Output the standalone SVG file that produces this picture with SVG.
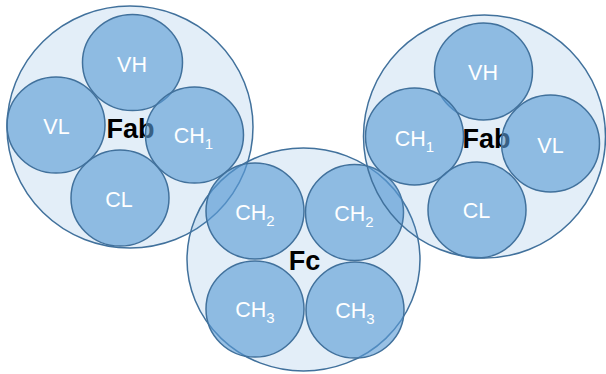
<svg xmlns="http://www.w3.org/2000/svg" width="606" height="374" viewBox="0 0 606 374">
  <style>
    .domain { fill: #5b9bd5; fill-opacity: 0.17; stroke: #41719c; stroke-width: 1.5; }
    .chain { fill: #5b9bd5; fill-opacity: 0.62; stroke: #41719c; stroke-width: 1.5; }
    .lbl { font-family: "Liberation Sans", Arial, sans-serif; font-size: 21.5px; fill: #ffffff; text-anchor: middle; }
    .sub { font-size: 15px; }
    .title { font-family: "Liberation Sans", Arial, sans-serif; font-weight: bold; font-size: 27px; fill: #000000; text-anchor: middle; }
  </style>
  <rect width="606" height="374" fill="#ffffff"/>

  <!-- Left Fab fragment -->
  <g id="fab-left">
    <ellipse class="domain" cx="130" cy="127" rx="123" ry="121"/>
    <text class="title" x="130.5" y="138">Fab</text>
    <ellipse class="chain" cx="132.5" cy="62.5" rx="50" ry="48"/>
    <ellipse class="chain" cx="56" cy="125" rx="49" ry="48"/>
    <ellipse class="chain" cx="194.5" cy="135" rx="49" ry="48"/>
    <ellipse class="chain" cx="120" cy="198" rx="49" ry="48"/>
    <text class="lbl" x="132" y="72">VH</text>
    <text class="lbl" x="56.5" y="134">VL</text>
    <text class="lbl" x="193.5" y="143">CH<tspan class="sub" dy="6">1</tspan></text>
    <text class="lbl" x="119" y="206.5">CL</text>
  </g>

  <!-- Fc fragment -->
  <g id="fc">
    <ellipse class="domain" cx="303.5" cy="259.5" rx="116.5" ry="111.5"/>
    <text class="title" x="304.5" y="270">Fc</text>
    <ellipse class="chain" cx="255" cy="211" rx="49" ry="48"/>
    <ellipse class="chain" cx="354.5" cy="212.5" rx="49" ry="48"/>
    <ellipse class="chain" cx="255" cy="309" rx="49" ry="48"/>
    <ellipse class="chain" cx="355" cy="310" rx="49" ry="48"/>
    <text class="lbl" x="255" y="220">CH<tspan class="sub" dy="6">2</tspan></text>
    <text class="lbl" x="354" y="221">CH<tspan class="sub" dy="6">2</tspan></text>
    <text class="lbl" x="255" y="317">CH<tspan class="sub" dy="6">3</tspan></text>
    <text class="lbl" x="355" y="318">CH<tspan class="sub" dy="6">3</tspan></text>
  </g>

  <!-- Right Fab fragment -->
  <g id="fab-right">
    <ellipse class="domain" cx="484.5" cy="136.5" rx="121" ry="121.5"/>
    <text class="title" x="486.5" y="148">Fab</text>
    <ellipse class="chain" cx="483.5" cy="71.5" rx="49" ry="48.5"/>
    <ellipse class="chain" cx="414.5" cy="136.5" rx="49" ry="48.5"/>
    <ellipse class="chain" cx="550.5" cy="143.5" rx="49" ry="48.5"/>
    <ellipse class="chain" cx="477" cy="210" rx="49" ry="48"/>
    <text class="lbl" x="483" y="80">VH</text>
    <text class="lbl" x="414.5" y="146">CH<tspan class="sub" dy="6">1</tspan></text>
    <text class="lbl" x="550.5" y="152.5">VL</text>
    <text class="lbl" x="476.5" y="218">CL</text>
  </g>
</svg>
